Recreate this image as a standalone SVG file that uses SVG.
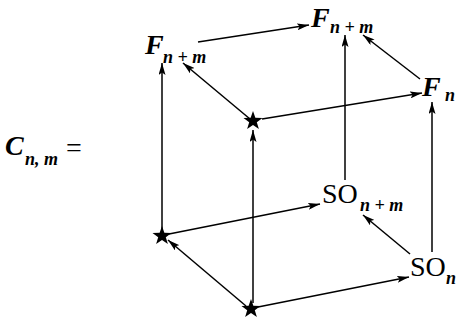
<svg xmlns="http://www.w3.org/2000/svg" width="456" height="321" viewBox="0 0 456 321">
<style>
.main{font-family:"Liberation Serif","Times New Roman",serif;font-size:28px;fill:#000}
.it{font-style:italic;font-weight:bold}
.sub{font-family:"Liberation Serif","Times New Roman",serif;font-size:18px;font-style:italic;font-weight:bold;fill:#000}
.ln{stroke:#000;stroke-width:1.5;fill:none;marker-end:url(#ah)}
.star{fill:#000}
</style>
<defs>
<marker id="ah" markerUnits="userSpaceOnUse" markerWidth="13" markerHeight="7" refX="12" refY="3.5" orient="auto">
<path d="M0,0 L12,3.5 L0,7 L2.5,3.5 z" fill="#000"/>
</marker>
<polygon id="st" points="0,-10 2.35,-3.24 9.51,-3.09 3.80,1.24 5.88,8.09 0,4 -5.88,8.09 -3.80,1.24 -9.51,-3.09 -2.35,-3.24"/>
</defs>
<rect width="456" height="321" fill="#fff"/>
<g id="label-C">
<text class="main it" x="5" y="155">C</text>
<text class="sub" x="25" y="165">n, m</text>
<text class="main" x="66" y="157">=</text>
</g>
<g id="connectors">
<line class="ln" x1="198" y1="42" x2="309" y2="25"/>
<line class="ln" x1="250" y1="119" x2="183" y2="63"/>
<line class="ln" x1="262" y1="119" x2="422" y2="93"/>
<line class="ln" x1="420" y1="79" x2="363" y2="35"/>
<line class="ln" x1="345" y1="180" x2="345" y2="35"/>
<line class="ln" x1="432" y1="252" x2="432" y2="102"/>
<line class="ln" x1="162" y1="231" x2="162" y2="63"/>
<line class="ln" x1="253" y1="303" x2="253" y2="130"/>
<line class="ln" x1="169" y1="234" x2="320" y2="204"/>
<line class="ln" x1="246" y1="306" x2="168" y2="240"/>
<line class="ln" x1="258" y1="307" x2="409" y2="277"/>
<line class="ln" x1="410" y1="254" x2="363" y2="215"/>
</g>
<g id="F-top-left">
<text class="main it" x="145" y="54">F</text>
<text class="sub" x="163" y="63" xml:space="preserve">n + m</text>
</g>
<g id="F-top-right">
<text class="main it" x="311" y="27">F</text>
<text class="sub" x="330" y="33" xml:space="preserve">n + m</text>
</g>
<g id="F-n">
<text class="main it" x="422" y="96">F</text>
<text class="sub" x="445" y="101">n</text>
</g>
<g id="SO-n-plus-m">
<text class="main" x="322" y="203">SO</text>
<text class="sub" x="360" y="211" xml:space="preserve">n + m</text>
</g>
<g id="SO-n">
<text class="main" x="410" y="276">SO</text>
<text class="sub" x="446" y="284">n</text>
</g>
<g id="star-top"><use href="#st" class="star" x="253" y="121"/></g>
<g id="star-left"><use href="#st" class="star" x="162" y="236"/></g>
<g id="star-bottom"><use href="#st" class="star" x="251" y="309"/></g>
</svg>
